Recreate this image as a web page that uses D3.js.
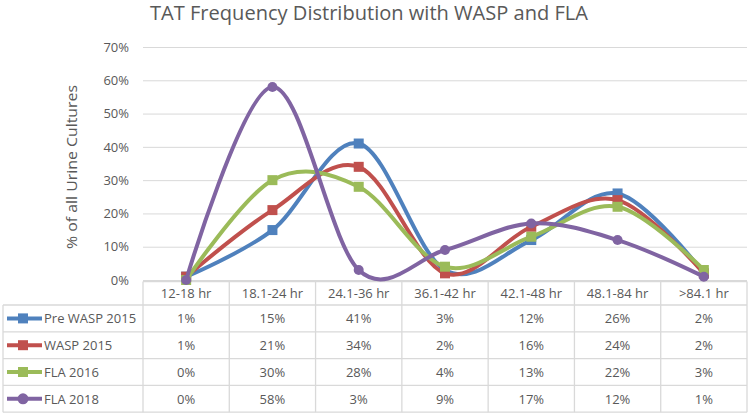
<!DOCTYPE html>
<html>
<head>
<meta charset="utf-8">
<script src="https://cdn.jsdelivr.net/npm/d3@7"></script>
<style>
  body { margin: 0; background: #fff; }
  svg { display: block; font-family: "Open Sans", "Liberation Sans", sans-serif; }
</style>
</head>
<body>
<svg id="chart" width="750" height="416"></svg>
<script>
// TAT-Verteilung — Werte aus der Tabelle unter dem Diagramm
const categories = ['12-18 hr', '18.1-24 hr', '24.1-36 hr', '36.1-42 hr', '42.1-48 hr', '48.1-84 hr', '>84.1 hr'];
const seriesNames = ['Pre WASP 2015', 'WASP 2015', 'FLA 2016', 'FLA 2018'];
const preWasp2015 = [1, 15, 41, 3, 12, 26, 2];
const wasp2015 = [1, 21, 34, 2, 16, 24, 2];
const fla2016 = [0, 30, 28, 4, 13, 22, 3];
const fla2018 = [0, 58, 3, 9, 17, 12, 1];
const yTicks = [0, 10, 20, 30, 40, 50, 60, 70];

const colors = ['#4F81BD', '#C0504D', '#9BBB59', '#8064A2'];
const markers = ['square', 'square', 'square', 'circle'];
const values = [preWasp2015, wasp2015, fla2016, fla2018];

const svg = d3.select('#chart');
const plotLeft = 143, plotRight = 747, plotTop = 47, plotBottom = 280;
const rowH = 26.8, headerBottom = 305;
const textColor = '#595959', gridColor = '#d9d9d9';

const x = d3.scaleBand().domain(categories).range([plotLeft, plotRight]).padding(0);
const y = d3.scaleLinear().domain([0, 70]).range([plotBottom, plotTop]);
const cx = c => x(c) + x.bandwidth() / 2;

// Titel
svg.append('text')
  .attr('x', 150).attr('y', 20)
  .attr('font-size', 20)
  .attr('fill', textColor)
  .attr('textLength', 438)
  .attr('lengthAdjust', 'spacingAndGlyphs')
  .text('TAT Frequency Distribution with WASP and FLA');

// Gitterlinien + y-Achse
const yAxis = d3.axisLeft(y).tickValues(yTicks).tickFormat(d => d + '%')
  .tickSize(-(plotRight - plotLeft)).tickPadding(14);
const ga = svg.append('g').attr('transform', `translate(${plotLeft},0)`).call(yAxis);
ga.select('.domain').remove();
ga.selectAll('line').attr('stroke', gridColor).attr('stroke-width', 1);
ga.selectAll('text').attr('font-size', 13).attr('fill', textColor)
  .attr('font-family', '"Open Sans", "Liberation Sans", sans-serif');

svg.append('text')
  .attr('transform', 'translate(77,167) rotate(-90)')
  .attr('text-anchor', 'middle')
  .attr('font-size', 15)
  .attr('fill', textColor)
  .attr('textLength', 164)
  .attr('lengthAdjust', 'spacingAndGlyphs')
  .text('% of all Urine Cultures');

// Tabelle
const tbl = svg.append('g').attr('fill', 'none').attr('stroke', gridColor).attr('stroke-width', 1.3);
const rowsBottom = headerBottom + rowH * seriesNames.length;
tbl.append('line').attr('x1', plotLeft).attr('x2', plotRight).attr('y1', plotBottom + 1.5).attr('y2', plotBottom + 1.5);
d3.range(seriesNames.length + 1).forEach(i => {
  const yy = headerBottom + i * rowH;
  tbl.append('line').attr('x1', 3).attr('x2', plotRight).attr('y1', yy).attr('y2', yy);
});
tbl.append('line').attr('x1', 3).attr('x2', 3).attr('y1', headerBottom).attr('y2', rowsBottom);
d3.range(categories.length + 1).forEach(i => {
  const xx = plotLeft + i * x.bandwidth();
  tbl.append('line').attr('x1', xx).attr('x2', xx).attr('y1', plotBottom + 1.5).attr('y2', rowsBottom);
});

svg.append('g').selectAll('text').data(categories).join('text')
  .attr('x', d => cx(d)).attr('y', (plotBottom + headerBottom) / 2 + 5)
  .attr('text-anchor', 'middle').attr('font-size', 13).attr('fill', textColor)
  .text(d => d);

const rows = svg.append('g').selectAll('g').data(seriesNames).join('g')
  .attr('transform', (d, i) => `translate(0,${headerBottom + i * rowH + rowH / 2})`);

rows.append('line')
  .attr('x1', 7).attr('x2', 42).attr('y1', 0).attr('y2', 0)
  .attr('stroke', (d, i) => colors[i]).attr('stroke-width', 4);
rows.each(function (d, i) {
  const g = d3.select(this);
  if (markers[i] === 'circle') {
    g.append('circle').attr('cx', 23).attr('cy', 0).attr('r', 5.5).attr('fill', colors[i]);
  } else {
    g.append('rect').attr('x', 18).attr('y', -5).attr('width', 10).attr('height', 10).attr('fill', colors[i]);
  }
});
rows.append('text')
  .attr('x', 44).attr('y', 5).attr('font-size', 13).attr('fill', textColor)
  .text(d => d);
rows.each(function (d, i) {
  d3.select(this).selectAll('text.val').data(values[i]).join('text')
    .attr('class', 'val')
    .attr('x', (v, j) => cx(categories[j])).attr('y', 5)
    .attr('text-anchor', 'middle').attr('font-size', 13).attr('fill', textColor)
    .text(v => v + '%');
});

// Linien
const line = d3.line()
  .x((v, j) => cx(categories[j]))
  .y(v => y(v))
  .curve(d3.curveCardinal.tension(0));

const series = svg.append('g').selectAll('g').data(values).join('g');
series.append('path')
  .attr('d', d => line(d))
  .attr('fill', 'none')
  .attr('stroke', (d, i) => colors[i])
  .attr('stroke-width', 4)
  .attr('stroke-linecap', 'round');
series.each(function (d, i) {
  const g = d3.select(this);
  if (markers[i] === 'circle') {
    g.selectAll('circle').data(d).join('circle')
      .attr('cx', (v, j) => cx(categories[j])).attr('cy', v => y(v))
      .attr('r', 5).attr('fill', colors[i]);
  } else {
    g.selectAll('rect').data(d).join('rect')
      .attr('x', (v, j) => cx(categories[j]) - 5).attr('y', v => y(v) - 5)
      .attr('width', 10).attr('height', 10).attr('fill', colors[i]);
  }
});
</script>
</body>
</html>
